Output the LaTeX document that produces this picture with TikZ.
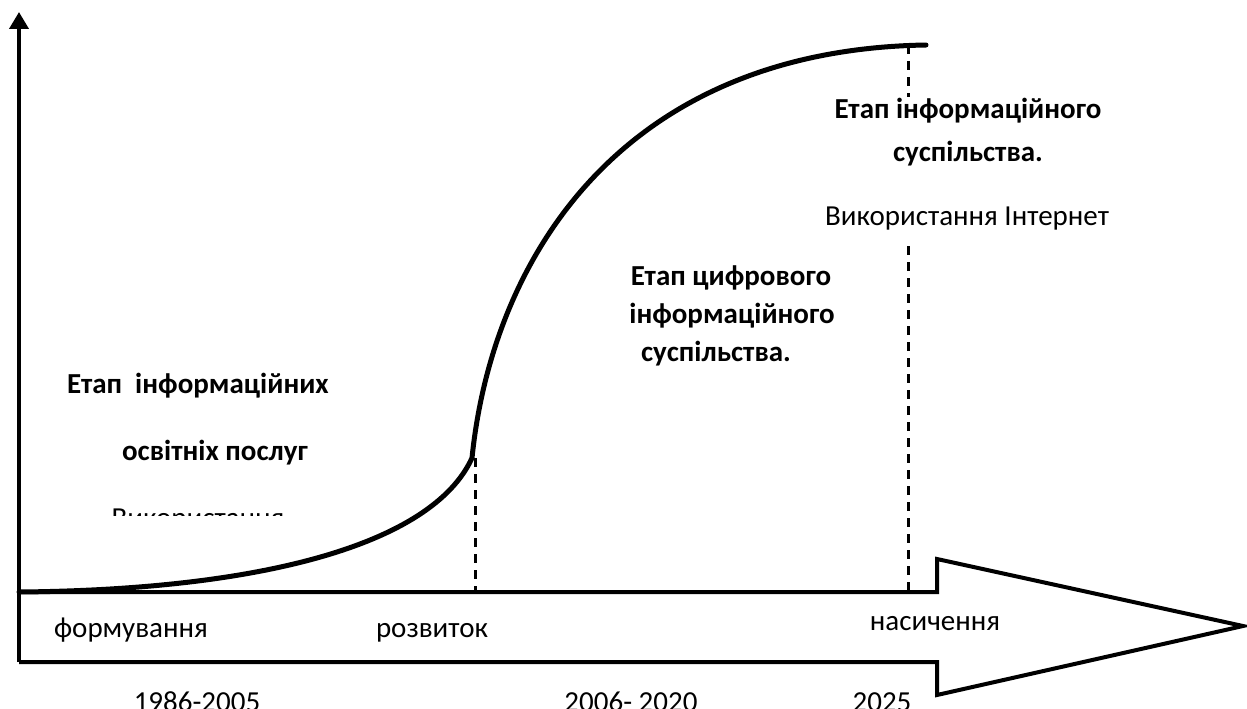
\documentclass[tikz,border=0pt]{standalone}
\usepackage{fontspec}
\setmainfont{Carlito}
\usetikzlibrary{arrows.meta,positioning}
\tikzstyle{stage} = [font=\fontsize{29}{33}\selectfont\bfseries, inner sep=0pt, anchor=base]
\tikzstyle{phase} = [font=\fontsize{29}{33}\selectfont, inner sep=0pt, anchor=base]
\tikzstyle{line} = [draw, line width=4pt, line join=miter]
\tikzstyle{growth} = [draw, line width=5pt, line cap=round]
\tikzstyle{guide} = [draw, line width=3pt, dash pattern=on 9pt off 7pt]

\begin{document}
\begin{tikzpicture}[x=1pt, y=-1pt]
\useasboundingbox (0,0) rectangle (1247,709);
\clip (0,0) rectangle (1247,709);
    % Place coordinates
\coordinate (O) at (19,592);
\coordinate (top) at (19,12);
\coordinate (base) at (19,662);
\coordinate (neckT) at (937,592);
\coordinate (headT) at (937,559);
\coordinate (tip) at (1243,626);
\coordinate (headB) at (937,695);
\coordinate (neckB) at (937,662);
\coordinate (bend) at (472,458);
\coordinate (peak) at (926,45);
\coordinate (dev) at (475,592);
\coordinate (sat) at (908,592);
\coordinate (satMid) at (908,246);

    % Place nodes
\node[stage] (soc1) at (968,118) {Етап інформаційного};
\node[stage] (soc2) at (968,161) {суспільства.};
\node[phase] (internet) at (967,225) {Використання Інтернет};
\node[stage] (dig1) at (731,285) {Етап цифрового};
\node[stage] (dig2) at (732,323) {інформаційного};
\node[stage] (dig3) at (716,361) {суспільства.};
\node[stage] (edu1) at (198,393) {Етап~~інформаційних};
\node[stage] (edu2) at (215,460) {освітніх послуг};
\begin{scope}
\clip (0,0) rectangle (1247,515);
\node[phase] (use) at (198,527) {Використання};
\end{scope}
\node[phase] (form) at (131,637) {формування};
\node[phase] (grow) at (432,637) {розвиток};
\node[phase] (satur) at (935,630) {насичення};
\node[phase] (y1) at (197,711) {1986-2005};
\node[phase] (y2) at (631,711) {2006- 2020};
\node[phase] (y3) at (882,711) {2025};

    % Draw edges
\path [line] (O) -- (neckT) -- (headT) -- (tip) -- (headB) -- (neckB) -- (base);
\path [line, -{Triangle[width=19pt,length=17pt]}] (base) -- (top);
\path [growth] (O) .. controls (260,590) and (432,545) .. (bend)
    .. controls (492,260) and (620,50) .. (peak);
\path [guide] (dev |- bend) -- (dev);
\path [guide] (peak -| sat) -- (sat |- soc1.north);
\path [guide] (satMid) -- (sat);

\end{tikzpicture}
\end{document}
